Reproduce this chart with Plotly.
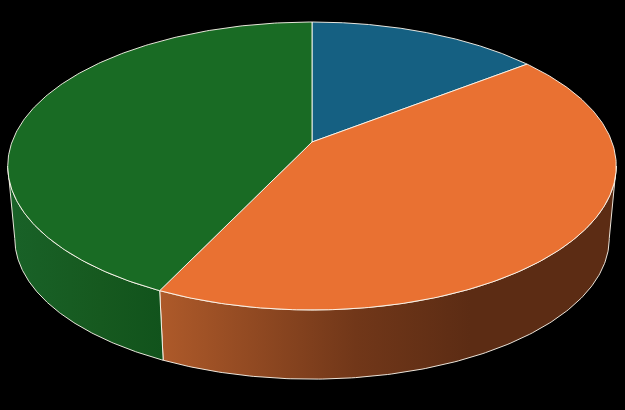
import numpy as np
import plotly.graph_objects as go

categories = ["Blue", "Orange", "Green"]
shares = [14.5, 42.6, 42.9]
face_colors = ["#156082", "#E97132", "#196B24"]

CX = 312
A, B, C = 300, 140, 1 / 6
TOP_Y, BASE_Y, BASE_SCALE = 142, 215, 0.977
EDGE = "rgba(255,250,240,0.9)"


def project(theta_deg, y0=TOP_Y, s=1.0):
    t = np.radians(theta_deg)
    u, v = np.sin(t), -np.cos(t)
    w = 1 - C * v
    return CX + s * A * u / w, y0 + s * B * v / w


def arc(a, b, n=160):
    return np.linspace(a, b, n)


limit = np.degrees(np.arccos(-C))  # back/front silhouette angle
cum = np.concatenate([[0], np.cumsum(shares)]) / sum(shares) * 360

fig = go.Figure()


def wall(a, b, stops):
    tx, ty = project(arc(a, b))
    bx, by = project(arc(b, a), BASE_Y, BASE_SCALE)
    fig.add_trace(go.Scatter(
        x=np.r_[tx, bx, tx[0]], y=np.r_[ty, by, ty[0]],
        mode="lines", fill="toself",
        line=dict(color=EDGE, width=1),
        fillgradient=dict(type="horizontal", colorscale=stops),
        hoverinfo="skip", showlegend=False))


orange_wall = [[0, "#AE5A2A"], [0.43, "#713719"], [0.68, "#5C2C14"], [1, "#5C2C14"]]
green_wall = [[0, "#196228"], [0.6, "#16591F"], [1, "#11531C"]]

wall(limit, cum[2], orange_wall)
wall(cum[2], 360 - limit, green_wall)

for i, name in enumerate(categories):
    xs, ys = project(arc(cum[i], cum[i + 1], 240))
    fig.add_trace(go.Scatter(
        x=np.r_[CX, xs, CX], y=np.r_[TOP_Y, ys, TOP_Y],
        mode="lines", fill="toself", name=name,
        line=dict(color=EDGE, width=1), fillcolor=face_colors[i],
        hoverinfo="skip", showlegend=False))

fig.update_layout(
    width=625, height=410, margin=dict(l=0, r=0, t=0, b=0),
    paper_bgcolor="black", plot_bgcolor="black",
    xaxis=dict(range=[0, 625], visible=False, fixedrange=True),
    yaxis=dict(range=[410, 0], visible=False, fixedrange=True),
)
fig.write_html(
    "out.html",
    config=dict(displayModeBar=False),
    post_script="document.body.style.margin='0';document.body.style.background='black';document.documentElement.style.overflow='hidden';",
)
